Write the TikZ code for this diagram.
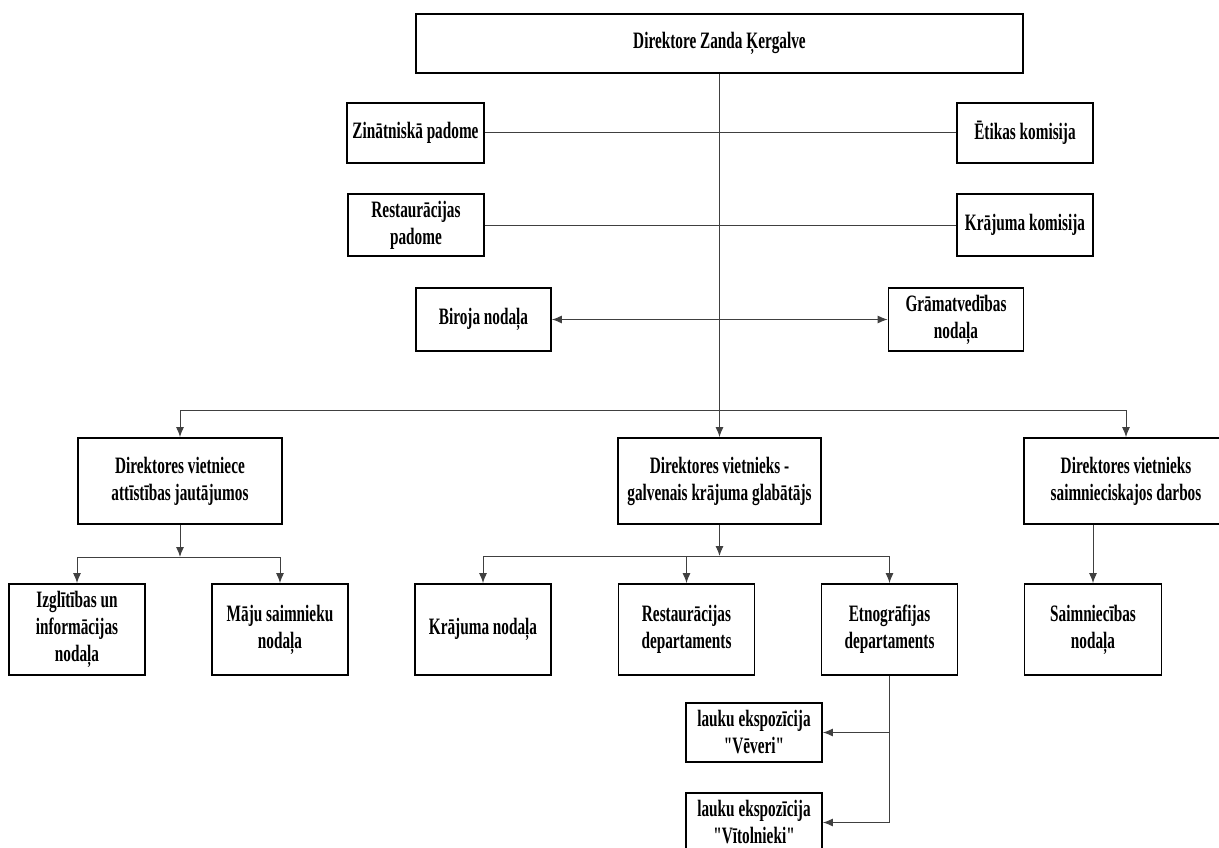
\documentclass[tikz,border=0pt]{standalone}
\usepackage{fontspec}
\setmainfont{Liberation Serif}[FakeStretch=0.65, Ligatures=TeXOff]
\usetikzlibrary{arrows.meta}

\begin{document}
\begin{tikzpicture}[x=1pt, y=-1pt,
    unit/.style={draw, line width=1.8pt, align=center, inner sep=2pt,
      minimum width=136, font=\fontsize{23.5}{27}\selectfont\bfseries},
    link/.style={line width=1pt, black!75},
    tip/.style={link, -{Latex[length=10pt,width=8pt]}},
    tips/.style={link, {Latex[length=10pt,width=8pt]}-{Latex[length=10pt,width=8pt]}}]
    \useasboundingbox (0,0) rectangle (1219,848);

    \node[unit, minimum width=607, minimum height=59] (dir) at (719.5,43.5) {Direktore Zanda Ķergalve};
    \node[unit, minimum width=137, minimum height=60] (zin) at (415.5,133) {Zinātniskā padome};
    \node[unit, minimum height=60] (etik) at (1025,133) {Ētikas komisija};
    \node[unit, minimum height=62] (rpad) at (416,225) {Restaurācijas\\padome};
    \node[unit, minimum height=62] (krkom) at (1025,225) {Krājuma komisija};
    \node[unit, minimum width=135, minimum height=63] (bir) at (483.5,319.5) {Biroja nodaļa};
    \node[unit, minimum width=135, minimum height=63] (gram) at (956,319.5) {Grāmatvedības\\nodaļa};

    \node[unit, minimum width=204, minimum height=86] (vl) at (180,481) {Direktores vietniece\\attīstības jautājumos};
    \node[unit, minimum width=203, minimum height=86] (vm) at (719.5,481) {Direktores vietnieks -\\galvenais krājuma glabātājs};
    \node[unit, minimum width=204, minimum height=86] (vr) at (1126,481) {Direktores vietnieks\\saimnieciskajos darbos};

    \node[unit, minimum height=91] (izg) at (77,629.5) {Izglītības un\\informācijas\\nodaļa};
    \node[unit, minimum height=91] (maju) at (280,629.5) {Māju saimnieku\\nodaļa};
    \node[unit, minimum height=91] (krnod) at (483,629.5) {Krājuma nodaļa};
    \node[unit, minimum height=91] (rdep) at (686.5,629.5) {Restaurācijas\\departaments};
    \node[unit, minimum height=91] (edep) at (889.5,629.5) {Etnogrāfijas\\departaments};
    \node[unit, minimum width=137, minimum height=91] (snod) at (1093,629.5) {Saimniecības\\nodaļa};

    \node[unit, minimum height=59] (veveri) at (754,732.5) {lauku ekspozīcija\\"Vēveri"};
    \node[unit, minimum height=59] (vitol) at (754,822.5) {lauku ekspozīcija\\"Vītolnieki"};

    \coordinate (mainbus) at (719.5,410);
    \coordinate (lbus) at (180,557);
    \coordinate (mbus) at (719.5,556);
    \coordinate (edrop) at (889.5,822.5);

    \draw[link] (zin) -- (etik);
    \draw[link] (rpad) -- (krkom);
    \draw[tips] (bir) -- (gram);
    \draw[link] (dir.south) -- (mainbus);
    \draw[tip] (mainbus) -| (vl);
    \draw[tip] (mainbus) -- (vm);
    \draw[tip] (mainbus) -| (vr);

    \draw[tip] (vl) -- (lbus);
    \draw[tip] (lbus) -| (izg);
    \draw[tip] (lbus) -| (maju);

    \draw[tip] (vm) -- (mbus);
    \draw[tip] (mbus) -| (krnod);
    \draw[tip] (mbus) -| (rdep);
    \draw[tip] (mbus) -| (edep);

    \draw[tip] (snod.north |- vr.south) -- (snod.north);

    \draw[link] (edep) -- (edrop);
    \draw[tip] (edep.south |- veveri) -- (veveri);
    \draw[tip] (edrop) -- (vitol);
\end{tikzpicture}
\end{document}
